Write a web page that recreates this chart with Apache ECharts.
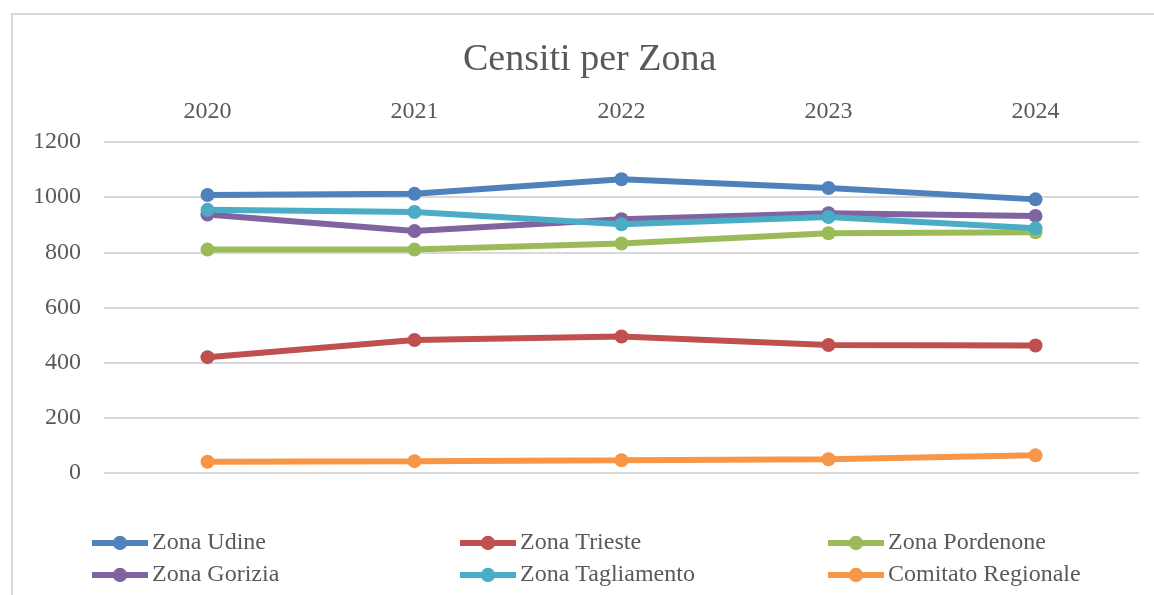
<!DOCTYPE html>
<html>
<head>
<meta charset="utf-8">
<script src="https://cdn.jsdelivr.net/npm/echarts@6/dist/echarts.min.js"></script>
<style>
  html, body { margin: 0; padding: 0; background: #fff; }
  #chart { width: 1154px; height: 595px; }
</style>
</head>
<body>
<div id="chart"></div>
<script>
const years = ['2020', '2021', '2022', '2023', '2024']
const zonaUdine = [1008, 1012, 1065, 1033, 992]
const zonaTrieste = [420, 482, 495, 464, 462]
const zonaPordenone = [810, 810, 832, 869, 873]
const zonaGorizia = [937, 877, 920, 942, 932]
const zonaTagliamento = [954, 946, 902, 928, 887]
const comitatoRegionale = [41, 43, 46, 50, 64]
const yTicks = { min: 0, max: 1200, interval: 200 }

const font = 'Liberation Serif'
const textColor = '#595959'

function lineSeries(name, data, color) {
    return {
        name: name,
        type: 'line',
        data: data,
        symbol: 'circle',
        symbolSize: 14,
        lineStyle: { width: 6, color: color },
        itemStyle: { color: color },
        emphasis: { disabled: true }
    }
}

function legendCol(left, names) {
    return {
        orient: 'vertical',
        left: left,
        top: 531,
        padding: 0,
        itemGap: 8,
        itemWidth: 56,
        itemHeight: 18,
        lineStyle: { width: 6 },
        data: names,
        textStyle: { fontFamily: font, fontSize: 24, color: textColor, padding: [0, 0, 0, -1] }
    }
}

const myChart = echarts.init(document.getElementById('chart'))
myChart.setOption({
    animation: false,
    title: {
        text: 'Censiti per Zona',
        left: 458,
        top: 36,
        textStyle: { fontFamily: font, fontSize: 38, fontWeight: 'normal', color: textColor }
    },
    graphic: [{
        type: 'rect',
        shape: { x: 12, y: 14, width: 1300, height: 800 },
        style: { fill: 'none', stroke: '#d9d9d9', lineWidth: 2 },
        silent: true
    }],
    legend: [
        legendCol(89, ['Zona Udine', 'Zona Gorizia']),
        legendCol(457, ['Zona Trieste', 'Zona Tagliamento']),
        legendCol(825, ['Zona Pordenone', 'Comitato Regionale'])
    ],
    grid: { left: 104, right: 15, top: 142, bottom: 122 },
    xAxis: {
        type: 'category',
        position: 'top',
        data: years,
        axisLine: { show: false },
        axisTick: { show: false },
        axisLabel: { fontFamily: font, fontSize: 24, color: textColor, margin: 18 }
    },
    yAxis: {
        type: 'value',
        min: yTicks.min,
        max: yTicks.max,
        interval: yTicks.interval,
        axisLine: { show: false },
        axisTick: { show: false },
        axisLabel: { fontFamily: font, fontSize: 24, color: textColor, margin: 23, formatter: v => String(v) },
        splitLine: { lineStyle: { color: '#d9d9d9', width: 2 } }
    },
    series: [
        lineSeries('Zona Udine', zonaUdine, '#4f81bd'),
        lineSeries('Zona Trieste', zonaTrieste, '#c0504d'),
        lineSeries('Zona Pordenone', zonaPordenone, '#9bbb59'),
        lineSeries('Zona Gorizia', zonaGorizia, '#8064a2'),
        lineSeries('Zona Tagliamento', zonaTagliamento, '#4bacc6'),
        lineSeries('Comitato Regionale', comitatoRegionale, '#f79646')
    ]
})
</script>
</body>
</html>
